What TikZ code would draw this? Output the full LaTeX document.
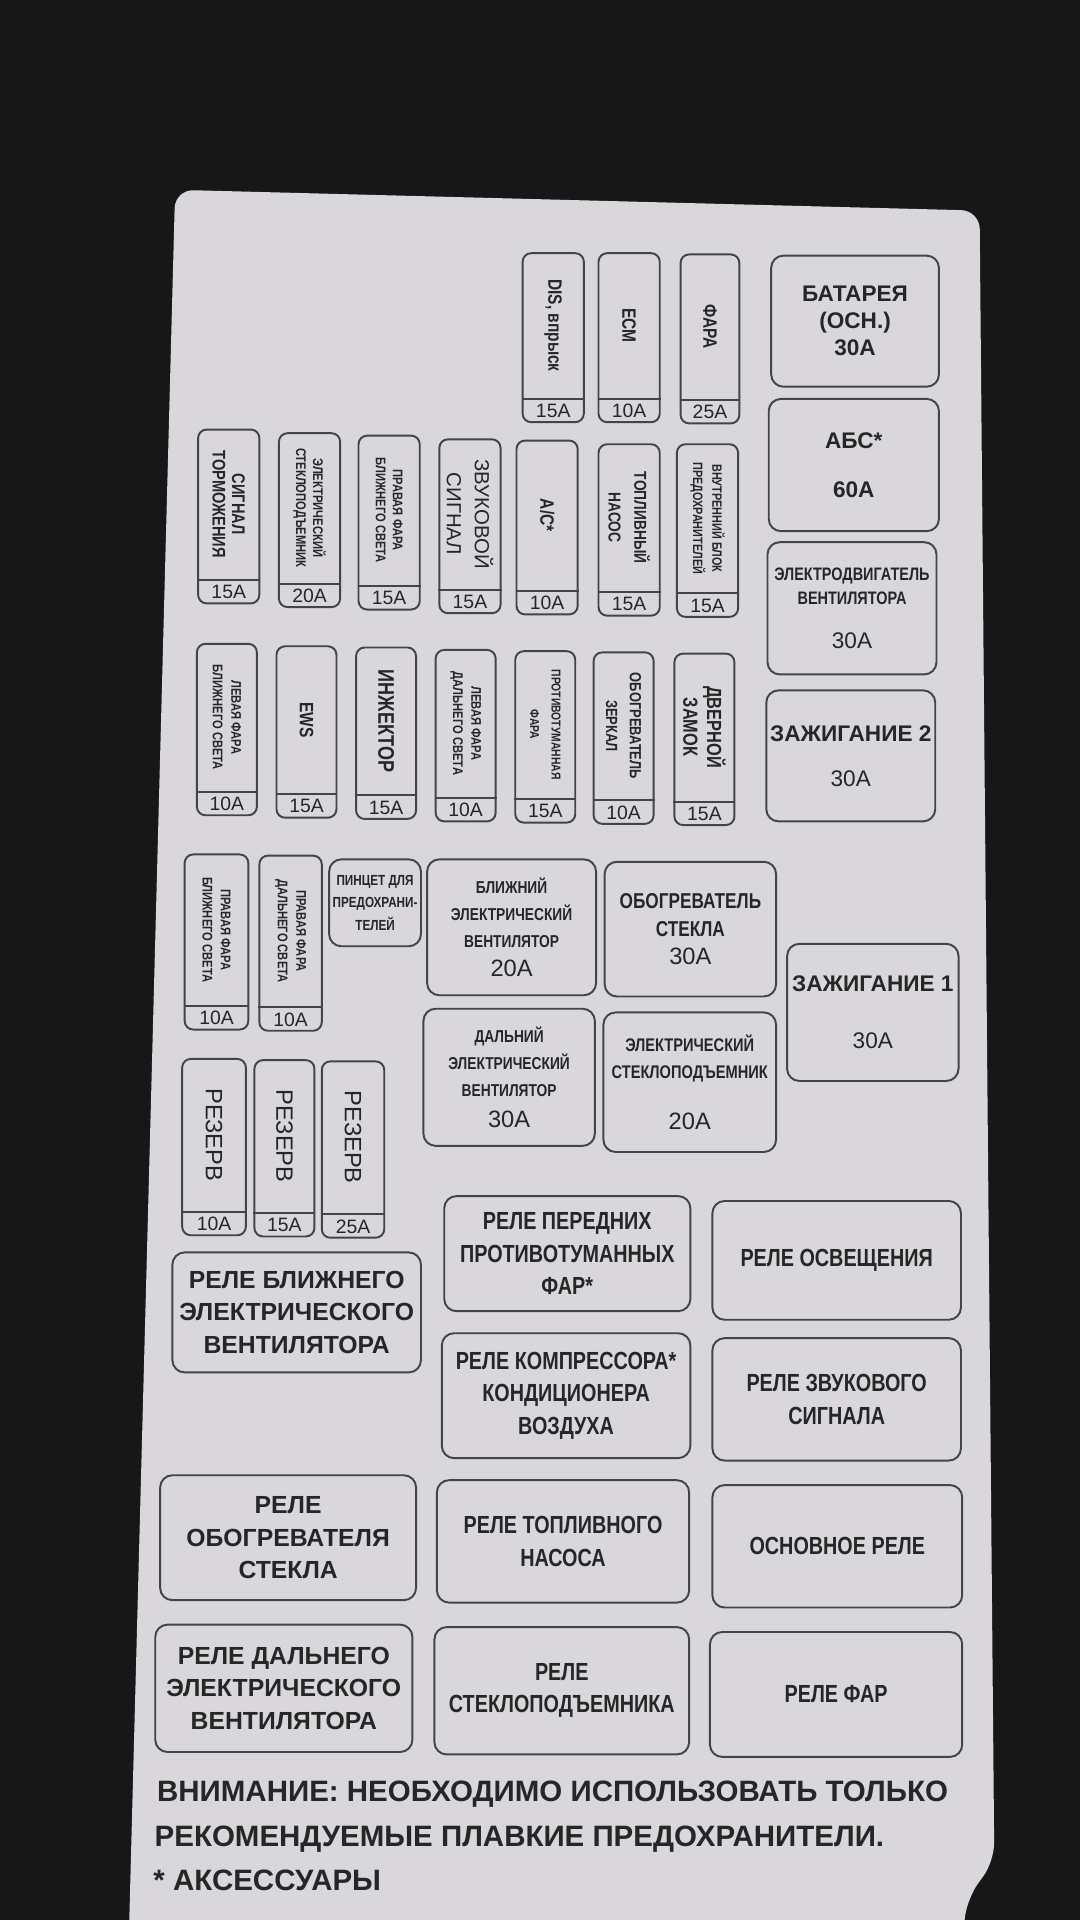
\documentclass[tikz,border=0pt]{standalone}
\usepackage{fontspec}
\setmainfont{Liberation Sans}
\newfontfamily\narrowfont{Liberation Sans}[FakeStretch=0.8]
\usepackage{tikz}
\usetikzlibrary{positioning}
\usepackage{xcolor}
\definecolor{bgdark}{HTML}{171717}
\definecolor{papercol}{HTML}{D9D7DB}
\definecolor{ink}{HTML}{262626}
\definecolor{rulecol}{HTML}{444444}

\newcommand{\fnb}[2]{\narrowfont\bfseries\fontsize{#1}{#2}\selectfont}
\newcommand{\fbd}[2]{\normalfont\bfseries\fontsize{#1}{#2}\selectfont}
\newcommand{\frg}[2]{\normalfont\fontsize{#1}{#2}\selectfont}

\newcommand{\fuse}[7]{%
  \node[fuse,minimum width=#3cm,minimum height=#4cm] (#1) at (#2) {};
  \draw[edge] ([yshift=0.4cm]#1.south west) -- ([yshift=0.4cm]#1.south east);
  \node[amp] (#1a) at ([yshift=0.2cm]#1.south) {#5};
  \node[fuselbl,font=#6] (#1l) at ([yshift=0.2cm]#1.center) {#7};}

\begin{document}
\begin{tikzpicture}[y=-1cm,
    edge/.style={draw=rulecol,line width=0.9pt},
    fuse/.style={edge,rounded corners=1.4mm,anchor=north west,inner sep=0pt},
    amp/.style={font=\frg{9}{10},text=ink,inner sep=0pt},
    fuselbl/.style={rotate=-90,align=center,text=ink,inner sep=0pt},
    block/.style={edge,rounded corners=2mm,anchor=north west,align=center,
                  text=ink,inner sep=0pt},
    warn/.style={font=\fbd{13.7}{15},text=ink,inner sep=0pt,anchor=west}]

  \useasboundingbox (0,0) rectangle (17.64,31.36);
  \clip (0,0) rectangle (17.64,31.36);
  \fill[bgdark] (0,0) rectangle (17.64,31.36);
  \fill[papercol,rounded corners=0.3cm] (2.86,3.10) -- (16.00,3.44) -- (16.24,30.40)
    -- (15.80,31.00) -- (15.70,31.80) -- (2.10,31.80) -- cycle;

  \fuse{dis}{8.52,4.12}{1.0}{2.76}{15A}{\fnb{9}{10}}{DIS, впрыск}
  \fuse{ecm}{9.76,4.12}{1.0}{2.76}{10A}{\fnb{9}{10}}{ECM}
  \fuse{fara}{11.10,4.14}{0.96}{2.76}{25A}{\fnb{9}{10}}{ФАРА}

  \fuse{brake}{3.22,7.00}{1.0}{2.84}{15A}{\fnb{8.5}{9}}{СИГНАЛ\\ТОРМОЖЕНИЯ}
  \fuse{elwin}{4.54,7.06}{1.0}{2.84}{20A}{\fnb{6.5}{8}}{ЭЛЕКТРИЧЕСКИЙ\\СТЕКЛОПОДЪЕМНИК}
  \fuse{rlow}{5.84,7.10}{1.0}{2.84}{15A}{\fnb{6.5}{8}}{ПРАВАЯ ФАРА\\БЛИЖНЕГО СВЕТА}
  \fuse{horn}{7.16,7.16}{1.0}{2.84}{15A}{\frg{9.5}{13}}{ЗВУКОВОЙ\\СИГНАЛ}
  \fuse{ac}{8.42,7.18}{1.0}{2.84}{10A}{\fnb{9}{10}}{А/С*}
  \fuse{fuel}{9.76,7.24}{1.0}{2.80}{15A}{\fnb{8}{12}}{ТОПЛИВНЫЙ\\НАСОС}
  \fuse{inblk}{11.04,7.24}{1.0}{2.82}{15A}{\fnb{6.3}{9}}{ВНУТРЕННИЙ БЛОК\\ПРЕДОХРАНИТЕЛЕЙ}

  \fuse{llow}{3.20,10.50}{0.98}{2.80}{10A}{\fnb{6.5}{8.5}}{ЛЕВАЯ ФАРА\\БЛИЖНЕГО СВЕТА}
  \fuse{ews}{4.50,10.54}{0.98}{2.80}{15A}{\fnb{9}{10}}{EWS}
  \fuse{inj}{5.80,10.56}{0.98}{2.80}{15A}{\fnb{10.5}{12}}{ИНЖЕКТОР}
  \fuse{lhigh}{7.10,10.60}{0.98}{2.80}{10A}{\fnb{6.5}{8.5}}{ЛЕВАЯ ФАРА\\ДАЛЬНЕГО СВЕТА}
  \fuse{fog}{8.40,10.62}{0.98}{2.80}{15A}{\fnb{6}{10}}{ПРОТИВОТУМАННАЯ\\ФАРА}
  \fuse{mirr}{9.68,10.64}{0.98}{2.80}{10A}{\fnb{7.5}{11}}{ОБОГРЕВАТЕЛЬ\\ЗЕРКАЛ}
  \fuse{door}{11.00,10.66}{0.98}{2.80}{15A}{\fnb{9.5}{11}}{ДВЕРНОЙ\\ЗАМОК}

  \fuse{rlowb}{3.00,13.94}{1.04}{2.86}{10A}{\fnb{6.5}{8.5}}{ПРАВАЯ ФАРА\\БЛИЖНЕГО СВЕТА}
  \fuse{rhigh}{4.22,13.96}{1.02}{2.86}{10A}{\fnb{6.5}{8.5}}{ПРАВАЯ ФАРА\\ДАЛЬНЕГО СВЕТА}

  \fuse{res1}{2.96,17.28}{1.04}{2.88}{10A}{\frg{11}{12}}{РЕЗЕРВ}
  \fuse{res2}{4.14,17.30}{0.98}{2.88}{15A}{\frg{11}{12}}{РЕЗЕРВ}
  \fuse{res3}{5.24,17.32}{1.02}{2.88}{25A}{\frg{11}{12}}{РЕЗЕРВ}

  \node[block,minimum width=2.74cm,minimum height=2.14cm,font=\fbd{10.5}{12.5}] (bat)
    at (12.58,4.16) {БАТАРЕЯ\\(ОСН.)\\30A};
  \node[block,minimum width=2.78cm,minimum height=2.16cm,font=\fbd{10.5}{12.5}] (abs)
    at (12.54,6.50) {АБС*\\[10pt]60A};
  \node[block,minimum width=2.76cm,minimum height=2.16cm,font=\fnb{8.4}{11.4}] (fanmot)
    at (12.52,8.84) {ЭЛЕКТРОДВИГАТЕЛЬ\\ВЕНТИЛЯТОРА\\[9pt]\frg{10.5}{12}30A};
  \node[block,minimum width=2.76cm,minimum height=2.14cm,font=\fbd{10.5}{12.5}] (ign2)
    at (12.50,11.26) {ЗАЖИГАНИЕ 2\\[8.5pt]\frg{10.5}{12}30A};
  \node[block,minimum width=1.50cm,minimum height=1.42cm,font=\fnb{6.8}{10.5}] (pincet)
    at (5.36,14.02) {ПИНЦЕТ ДЛЯ\\ПРЕДОХРАНИ-\\ТЕЛЕЙ};
  \node[block,minimum width=2.76cm,minimum height=2.22cm,font=\fnb{8}{12.5}] (lofan)
    at (6.96,14.02) {БЛИЖНИЙ\\ЭЛЕКТРИЧЕСКИЙ\\ВЕНТИЛЯТОР\\[1pt]\frg{11}{12}20A};
  \node[block,minimum width=2.80cm,minimum height=2.20cm,font=\fnb{10}{13}] (glass)
    at (9.86,14.06) {ОБОГРЕВАТЕЛЬ\\СТЕКЛА\\\frg{11}{12}30A};
  \node[block,minimum width=2.80cm,minimum height=2.24cm,font=\fbd{10.5}{12.5}] (ign1)
    at (12.84,15.40) {ЗАЖИГАНИЕ 1\\[14pt]\frg{10.5}{12}30A};
  \node[block,minimum width=2.80cm,minimum height=2.24cm,font=\fnb{8}{12.5}] (hifan)
    at (6.90,16.46) {ДАЛЬНИЙ\\ЭЛЕКТРИЧЕСКИЙ\\ВЕНТИЛЯТОР\\[2pt]\frg{11}{12}30A};
  \node[block,minimum width=2.82cm,minimum height=2.28cm,font=\fnb{8.5}{12.5}] (winder)
    at (9.84,16.52) {ЭЛЕКТРИЧЕСКИЙ\\СТЕКЛОПОДЪЕМНИК\\[11pt]\frg{11}{12}20A};

  \node[block,minimum width=4.06cm,minimum height=1.96cm,font=\fbd{11.5}{15}] (rlofan)
    at (2.80,20.44) {РЕЛЕ БЛИЖНЕГО\\ЭЛЕКТРИЧЕСКОГО\\ВЕНТИЛЯТОРА};
  \node[block,minimum width=4.02cm,minimum height=1.88cm,font=\fnb{11.5}{15}] (rfog)
    at (7.24,19.52) {РЕЛЕ ПЕРЕДНИХ\\ПРОТИВОТУМАННЫХ\\ФАР*};
  \node[block,minimum width=4.06cm,minimum height=1.94cm,font=\fnb{11.5}{15}] (rlight)
    at (11.62,19.60) {РЕЛЕ ОСВЕЩЕНИЯ};
  \node[block,minimum width=4.06cm,minimum height=2.04cm,font=\fnb{11.5}{15}] (rac)
    at (7.20,21.76) {РЕЛЕ КОМПРЕССОРА*\\КОНДИЦИОНЕРА\\ВОЗДУХА};
  \node[block,minimum width=4.06cm,minimum height=2.00cm,font=\fnb{11.5}{15}] (rhorn)
    at (11.62,21.84) {РЕЛЕ ЗВУКОВОГО\\СИГНАЛА};
  \node[block,minimum width=4.18cm,minimum height=2.04cm,font=\fbd{11.5}{15}] (rglass)
    at (2.60,24.08) {РЕЛЕ\\ОБОГРЕВАТЕЛЯ\\СТЕКЛА};
  \node[block,minimum width=4.12cm,minimum height=2.00cm,font=\fnb{11.5}{15}] (rfuel)
    at (7.12,24.16) {РЕЛЕ ТОПЛИВНОГО\\НАСОСА};
  \node[block,minimum width=4.08cm,minimum height=2.00cm,font=\fnb{11.5}{15}] (rmain)
    at (11.62,24.24) {ОСНОВНОЕ РЕЛЕ};
  \node[block,minimum width=4.20cm,minimum height=2.08cm,font=\fbd{11.5}{15}] (rhifan)
    at (2.52,26.52) {РЕЛЕ ДАЛЬНЕГО\\ЭЛЕКТРИЧЕСКОГО\\ВЕНТИЛЯТОРА};
  \node[block,minimum width=4.16cm,minimum height=2.08cm,font=\fnb{11.5}{15}] (rwin)
    at (7.08,26.56) {РЕЛЕ\\СТЕКЛОПОДЪЕМНИКА};
  \node[block,minimum width=4.12cm,minimum height=2.04cm,font=\fnb{11.5}{15}] (rhead)
    at (11.58,26.64) {РЕЛЕ ФАР};

  \node[warn] (warn1) at (2.56,29.30) {ВНИМАНИЕ: НЕОБХОДИМО ИСПОЛЬЗОВАТЬ ТОЛЬКО};
  \node[warn] (warn2) at (2.52,30.04) {РЕКОМЕНДУЕМЫЕ ПЛАВКИЕ ПРЕДОХРАНИТЕЛИ.};
  \node[warn] (note) at (2.50,30.72) {* АКСЕССУАРЫ};
\end{tikzpicture}
\end{document}
